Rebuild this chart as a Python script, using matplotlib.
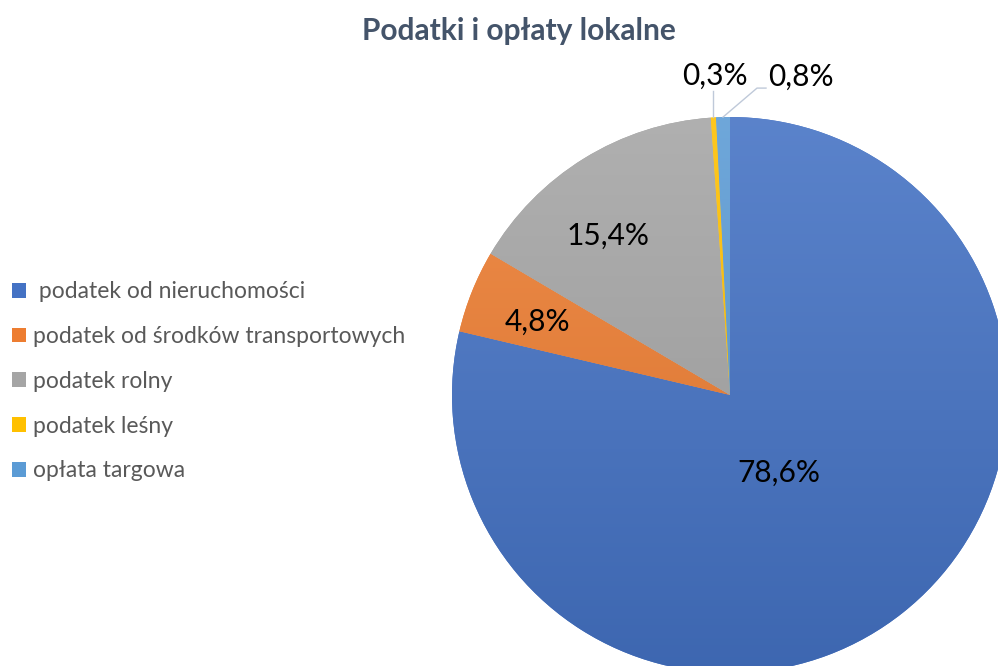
import matplotlib
matplotlib.use("Agg")
import matplotlib.pyplot as plt
import numpy as np

categories = [" podatek od nieruchomości", "podatek od środków transportowych",
              "podatek rolny", "podatek leśny", "opłata targowa"]
values = [78.6, 4.8, 15.4, 0.3, 0.8]
value_labels = ["78,6%", "4,8%", "15,4%", "0,3%", "0,8%"]
colors = ["#4472C4", "#ED7D31", "#A5A5A5", "#FFC000", "#5B9BD5"]

plt.rcParams['font.family'] = ['Lato', 'DejaVu Sans']

W, H = 998, 666
fig = plt.figure(figsize=(W / 100, H / 100), dpi=100)
ax = fig.add_axes([0, 0, 1, 1])

cx, cy, R = 730, H - 395, 278
wedges, _ = ax.pie(values, colors=colors, startangle=90, counterclock=False,
                   center=(cx, cy), radius=R,
                   wedgeprops=dict(linewidth=0))
ax.set_xlim(0, W)
ax.set_ylim(0, H)
ax.set_aspect('equal')
ax.axis('off')

# vertical gradient shading on each wedge
grad = np.linspace(0, 1, 256).reshape(-1, 1)
for w, c in zip(wedges, colors):
    base = np.array(matplotlib.colors.to_rgb(c))
    top = base + (1 - base) * 0.12
    bot = base * 0.90
    img = top[None, None, :] * (1 - grad[:, :, None]) + bot[None, None, :] * grad[:, :, None]
    im = ax.imshow(img, extent=(cx - R, cx + R, cy - R, cy + R), origin='upper',
                   aspect='auto', zorder=w.get_zorder() + 0.1)
    im.set_clip_path(w)
ax.set_xlim(0, W)
ax.set_ylim(0, H)

LFS = 21.5
# inside labels: (radial fraction, angular offset in degrees)
inside = {0: (0.33, -6.0), 1: (0.74, 1.0), 2: (0.72, 5.7)}
for i, w in enumerate(wedges):
    if i in inside:
        f, off = inside[i]
        mid = np.deg2rad((w.theta1 + w.theta2) / 2 + off)
        ax.text(cx + f * R * np.cos(mid), cy + f * R * np.sin(mid), value_labels[i],
                ha='center', va='center', fontsize=LFS, color='#000000', zorder=10)

# outside labels with leader lines
lc = '#BFC9D9'
w3 = wedges[3]
m3 = np.deg2rad((w3.theta1 + w3.theta2) / 2)
x3, y3 = cx + R * np.cos(m3), cy + R * np.sin(m3)
ax.plot([x3, x3], [y3, y3 + 26], color=lc, lw=1, zorder=10)
ax.text(x3 + 2, y3 + 42, value_labels[3], ha='center', va='center', fontsize=LFS, zorder=10)

w4 = wedges[4]
m4 = np.deg2rad((w4.theta1 + w4.theta2) / 2)
x4, y4 = cx + R * np.cos(m4), cy + R * np.sin(m4)
ax.plot([x4, x4 + 34, x4 + 43], [y4, y4 + 29, y4 + 29], color=lc, lw=1, zorder=10)
ax.text(x4 + 45, y4 + 40, value_labels[4], ha='left', va='center', fontsize=LFS, zorder=10)

fig.text(519 / W, 1 - 31 / H, "Podatki i opłaty lokalne", ha='center', va='center',
         fontsize=21.5, fontweight='bold', color='#44546A')

leg = fig.legend(wedges, categories, loc='upper left', bbox_to_anchor=(3 / W, 1 - 272 / H),
                 frameon=False, fontsize=16.5, handlelength=0.62, handleheight=0.62,
                 handletextpad=0.3, labelspacing=1.04, borderaxespad=0)
for t in leg.get_texts():
    t.set_color('#595959')

fig.savefig("out.png", dpi=100)
